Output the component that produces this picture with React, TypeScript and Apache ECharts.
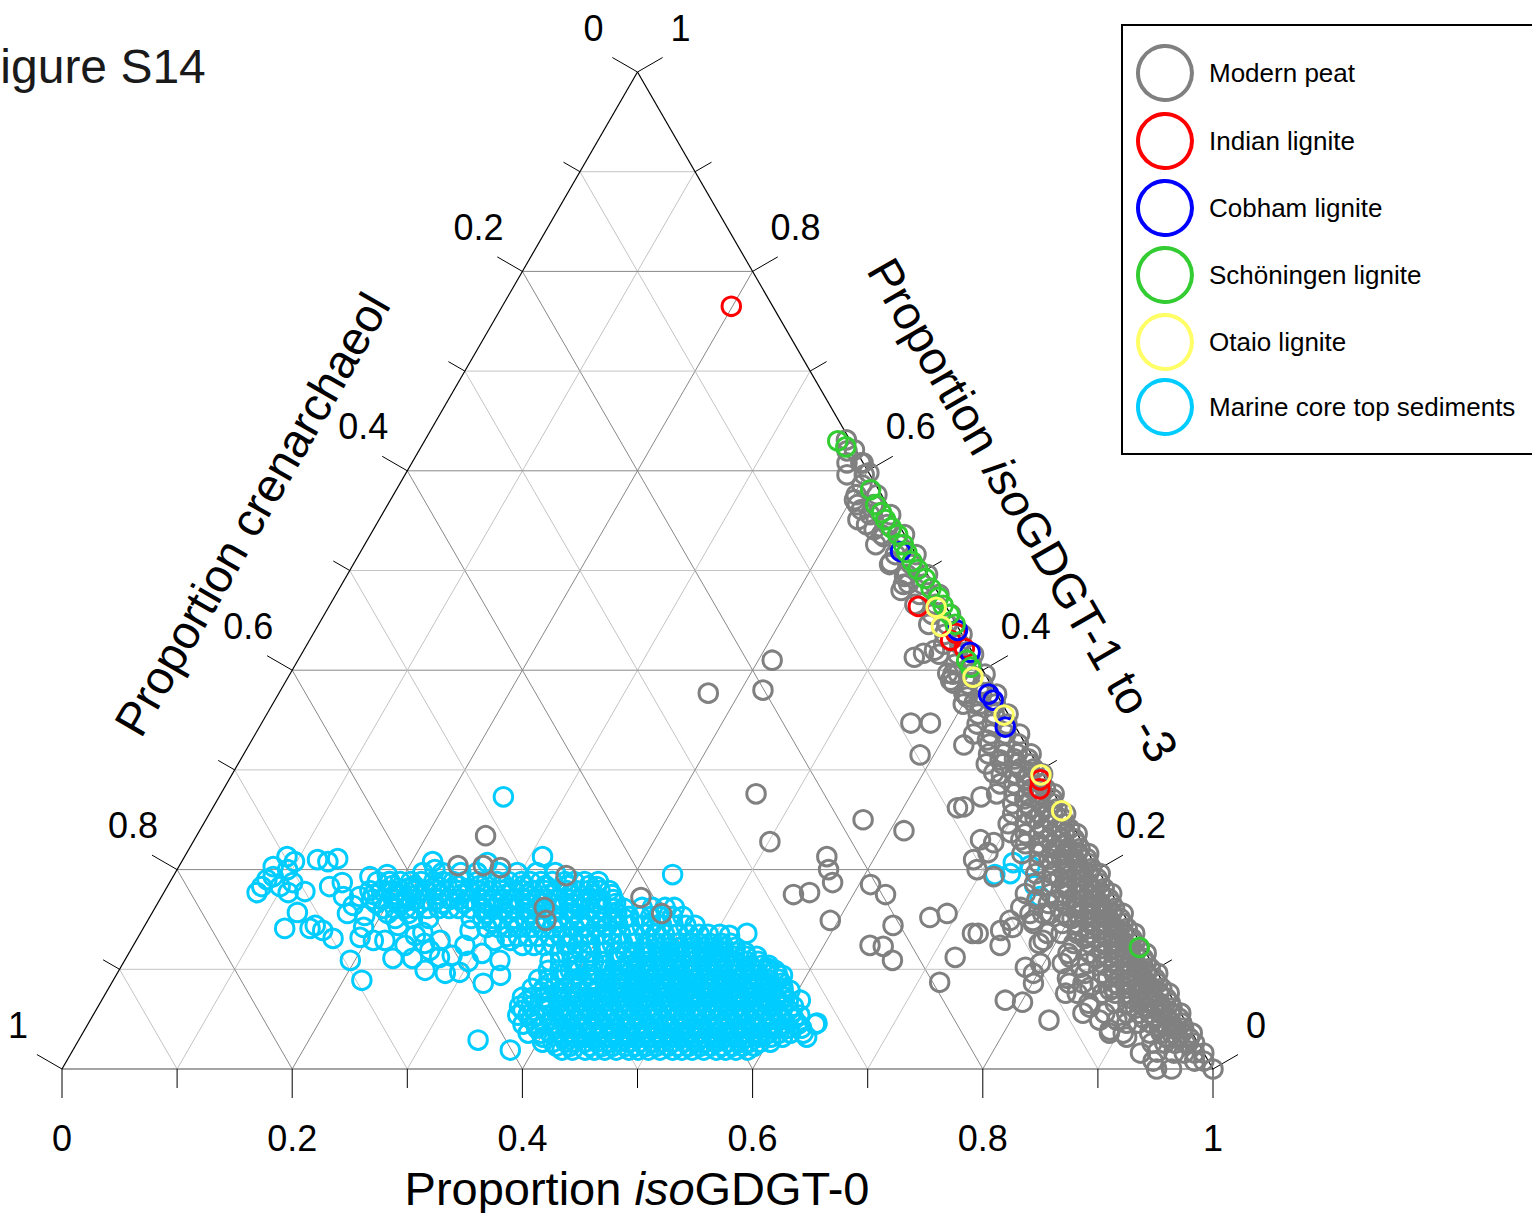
import React, { useEffect, useRef } from "react";
import * as echarts from "echarts";

const FONT = "'Liberation Sans', Arial, Helvetica, sans-serif";
const H = Math.sqrt(3) / 2;

// ---------- axes ----------
const tickValues = [0, 0.1, 0.2, 0.3, 0.4, 0.5, 0.6, 0.7, 0.8, 0.9, 1];
const gridValues = [0.1, 0.2, 0.3, 0.4, 0.5, 0.6, 0.7, 0.8, 0.9];
const tickLabelValues = [0, 0.2, 0.4, 0.6, 0.8, 1];
const tickLabelTexts = ["0", "0.2", "0.4", "0.6", "0.8", "1"];

const seriesNames = [
  "Modern peat",
  "Indian lignite",
  "Cobham lignite",
  "Schöningen lignite",
  "Otaio lignite",
  "Marine core top sediments",
];
const seriesColors = ["#808080", "#ff0000", "#0000ff", "#33cc33", "#ffff66", "#00ccff"];

// ---------- data: [isoGDGT-0, isoGDGT-1 to -3]; crenarchaeol = 1 - both ----------
const indianLignite = [
  [0.199, 0.765], [0.512, 0.464], [0.558, 0.437], [0.573, 0.422], [0.557, 0.43],
  [0.705, 0.29], [0.709, 0.281],
];
const cobhamLignite = [
  [0.469, 0.519], [0.558, 0.44], [0.58, 0.418], [0.617, 0.376], [0.624, 0.37], [0.648, 0.343],
];
const schoningenLignite = [
  [0.359, 0.63], [0.369, 0.624], [0.412, 0.581], [0.424, 0.566], [0.433, 0.558], [0.44, 0.551],
  [0.449, 0.543], [0.458, 0.536], [0.468, 0.526], [0.475, 0.518], [0.484, 0.509], [0.493, 0.501],
  [0.504, 0.492], [0.514, 0.482], [0.525, 0.473], [0.533, 0.465], [0.543, 0.456], [0.553, 0.446],
  [0.581, 0.41], [0.588, 0.403], [0.875, 0.122],
];
const otaioLignite = [
  [0.528, 0.463], [0.542, 0.444], [0.595, 0.393], [0.641, 0.355], [0.703, 0.295], [0.739, 0.259],
];

// Modern peat, scattered points [isoGDGT-0, isoGDGT-1 to -3]
const peatScatter = [
  [0.534, 0.413], [0.54, 0.417], [0.548, 0.42], [0.577, 0.39], [0.58, 0.397], [0.6, 0.373],
  [0.609, 0.367], [0.564, 0.347], [0.581, 0.347], [0.588, 0.315], [0.621, 0.325], [0.639, 0.33],
  [0.647, 0.262], [0.652, 0.263], [0.662, 0.273], [0.661, 0.297], [0.66, 0.31], [0.687, 0.21],
  [0.696, 0.217], [0.683, 0.23], [0.696, 0.227], [0.706, 0.237], [0.718, 0.23], [0.739, 0.223],
  [0.713, 0.193], [0.695, 0.2], [0.782, 0.183], [0.78, 0.17], [0.781, 0.156], [0.798, 0.152],
  [0.813, 0.139], [0.752, 0.162], [0.749, 0.149], [0.763, 0.156], [0.762, 0.17], [0.761, 0.183],
  [0.746, 0.139], [0.755, 0.142], [0.769, 0.149], [0.788, 0.129], [0.728, 0.136], [0.72, 0.112],
  [0.753, 0.124], [0.785, 0.069], [0.801, 0.067], [0.833, 0.049], [0.786, 0.102], [0.796, 0.096],
  [0.801, 0.086], [0.828, 0.091], [0.834, 0.102], [0.82, 0.112], [0.852, 0.082], [0.871, 0.079],
  [0.862, 0.062], [0.844, 0.076], [0.877, 0.049], [0.892, 0.049], [0.891, 0.039], [0.909, 0.032],
  [0.943, 0.017],
  [0.412, 0.41], [0.373, 0.377], [0.419, 0.38], [0.465, 0.276], [0.501, 0.228], [0.571, 0.25],
  [0.612, 0.239], [0.558, 0.213], [0.566, 0.2], [0.576, 0.187], [0.548, 0.175], [0.561, 0.177],
  [0.593, 0.149], [0.61, 0.185], [0.628, 0.175], [0.65, 0.144], [0.64, 0.124], [0.652, 0.123],
  [0.667, 0.109], [0.678, 0.152], [0.691, 0.156], [0.719, 0.087], [0.723, 0.136],
  [0.251, 0.234], [0.242, 0.204], [0.264, 0.204], [0.28, 0.202], [0.341, 0.194], [0.338, 0.162],
  [0.346, 0.149], [0.417, 0.172], [0.443, 0.156],
  [0.403, 0.571], [0.414, 0.561], [0.416, 0.551], [0.435, 0.541], [0.447, 0.534], [0.466, 0.508],
  [0.485, 0.494], [0.489, 0.48], [0.492, 0.487], [0.571, 0.397], [0.581, 0.387], [0.595, 0.377],
  [0.366, 0.631], [0.378, 0.621], [0.392, 0.608], [0.402, 0.598],
];

// Modern peat, dense band along the right edge: [isoGDGT-1 to -3, crenarchaeol values...]
const peatEdgeRows = [
  [0.0, 0.0, 0.036, 0.049],
  [0.008, 0.004, 0.012, 0.048],
  [0.016, 0.0, 0.008, 0.017, 0.026, 0.055],
  [0.026, 0.003, 0.011, 0.02, 0.029, 0.04],
  [0.036, 0.0, 0.009, 0.018, 0.027, 0.037, 0.06, 0.072],
  [0.046, 0.004, 0.013, 0.022, 0.031, 0.042, 0.052],
  [0.056, 0.0, 0.009, 0.018, 0.027, 0.036, 0.047, 0.066, 0.085],
  [0.066, 0.004, 0.013, 0.022, 0.031, 0.041, 0.052, 0.075],
  [0.076, 0.0, 0.009, 0.018, 0.027, 0.037, 0.047, 0.058, 0.09],
  [0.086, 0.005, 0.014, 0.023, 0.032, 0.042, 0.055, 0.07, 0.082],
  [0.096, 0.0, 0.01, 0.019, 0.028, 0.038, 0.048, 0.063],
  [0.106, 0.005, 0.014, 0.023, 0.033, 0.043, 0.056, 0.078, 0.097],
  [0.116, 0.0, 0.01, 0.019, 0.028, 0.038, 0.049, 0.068],
  [0.126, 0.005, 0.014, 0.024, 0.033, 0.044, 0.058, 0.088],
  [0.136, 0.0, 0.01, 0.019, 0.029, 0.039, 0.05, 0.064, 0.076],
  [0.146, 0.005, 0.015, 0.024, 0.034, 0.045, 0.058, 0.083],
  [0.156, 0.0, 0.01, 0.02, 0.03, 0.04, 0.052, 0.07],
  [0.166, 0.005, 0.015, 0.025, 0.035, 0.046, 0.06],
  [0.176, 0.0, 0.01, 0.02, 0.03, 0.041, 0.053, 0.075],
  [0.186, 0.005, 0.015, 0.025, 0.036, 0.047, 0.062],
  [0.196, 0.0, 0.01, 0.02, 0.031, 0.042, 0.056],
  [0.206, 0.005, 0.015, 0.026, 0.037, 0.048],
  [0.216, 0.0, 0.01, 0.021, 0.032, 0.043, 0.058],
  [0.226, 0.005, 0.016, 0.027, 0.038, 0.05],
  [0.236, 0.0, 0.011, 0.022, 0.033, 0.045],
  [0.246, 0.006, 0.017, 0.028, 0.04, 0.055],
  [0.256, 0.0, 0.011, 0.022, 0.034, 0.046],
  [0.266, 0.006, 0.017, 0.029, 0.041],
  [0.276, 0.0, 0.011, 0.023, 0.035, 0.05],
  [0.286, 0.006, 0.018, 0.03, 0.042],
  [0.296, 0.0, 0.012, 0.024, 0.036],
  [0.306, 0.006, 0.018, 0.03, 0.044],
  [0.316, 0.0, 0.012, 0.024, 0.037],
  [0.326, 0.006, 0.018, 0.031],
  [0.336, 0.0, 0.012, 0.025, 0.04],
  [0.346, 0.006, 0.019, 0.032],
  [0.356, 0.0, 0.012, 0.026],
  [0.366, 0.006, 0.019, 0.034],
  [0.376, 0.0, 0.013, 0.027],
  [0.386, 0.007, 0.02],
  [0.396, 0.0, 0.013, 0.028],
  [0.406, 0.007, 0.021],
  [0.416, 0.0, 0.014, 0.03],
  [0.426, 0.007, 0.021],
  [0.436, 0.0, 0.015],
  [0.446, 0.008, 0.024],
  [0.456, 0.0, 0.016],
  [0.466, 0.008, 0.026],
  [0.476, 0.0, 0.017],
  [0.486, 0.009, 0.026],
  [0.496, 0.0, 0.018],
  [0.506, 0.009, 0.028],
  [0.516, 0.0, 0.018],
  [0.526, 0.01, 0.03],
  [0.536, 0.0, 0.02],
  [0.546, 0.01, 0.028],
  [0.556, 0.002, 0.02],
  [0.566, 0.012, 0.026],
  [0.576, 0.004, 0.022],
  [0.586, 0.012],
  [0.596, 0.005, 0.02],
  [0.608, 0.002, 0.014],
  [0.62, 0.008],
];

// Modern peat, the most crowded part of the band: [isoGDGT-1 to -3, crenarchaeol values...]
const peatCoreRows = [
  [0.031, 0.005, 0.015, 0.024],
  [0.041, 0.005, 0.015, 0.026],
  [0.051, 0.004, 0.014, 0.024, 0.035],
  [0.061, 0.005, 0.015, 0.026, 0.037],
  [0.071, 0.005, 0.016, 0.027, 0.037],
  [0.081, 0.004, 0.014, 0.024, 0.035, 0.046],
  [0.091, 0.005, 0.015, 0.025, 0.036, 0.046],
  [0.101, 0.004, 0.015, 0.025, 0.036],
  [0.111, 0.005, 0.015, 0.025, 0.035, 0.046],
  [0.121, 0.004, 0.015, 0.025, 0.036],
  [0.131, 0.005, 0.015, 0.025, 0.036, 0.046],
  [0.141, 0.004, 0.015, 0.026, 0.037],
  [0.151, 0.005, 0.015, 0.026, 0.036, 0.047],
  [0.161, 0.005, 0.015, 0.026, 0.037],
  [0.171, 0.005, 0.016, 0.026, 0.037],
  [0.181, 0.004, 0.015, 0.026, 0.037],
  [0.191, 0.005, 0.016, 0.027, 0.038],
  [0.201, 0.005, 0.016, 0.027],
  [0.211, 0.004, 0.015, 0.026, 0.037],
  [0.221, 0.005, 0.016, 0.027],
  [0.231, 0.005, 0.016, 0.028],
  [0.241, 0.004, 0.015, 0.027],
  [0.251, 0.005, 0.017, 0.029],
  [0.261, 0.005, 0.016, 0.028],
  [0.271, 0.004, 0.016, 0.028],
  [0.281, 0.005, 0.017],
  [0.291, 0.005, 0.017],
  [0.301, 0.005, 0.017],
  [0.311, 0.005, 0.017],
];

// Marine core tops, scattered points [isoGDGT-0, isoGDGT-1 to -3]
const marineScatter = [
  [0.247, 0.273], [0.089, 0.213], [0.098, 0.208], [0.096, 0.2], [0.117, 0.21], [0.127, 0.208],
  [0.134, 0.211], [0.081, 0.177], [0.083, 0.19], [0.087, 0.193], [0.098, 0.183], [0.108, 0.177],
  [0.107, 0.187], [0.122, 0.178], [0.082, 0.203], [0.082, 0.183], [0.126, 0.157], [0.123, 0.141],
  [0.145, 0.141], [0.148, 0.144], [0.157, 0.139], [0.17, 0.131], [0.141, 0.183], [0.15, 0.187],
  [0.158, 0.173], [0.172, 0.173], [0.17, 0.156], [0.171, 0.164], [0.186, 0.154], [0.196, 0.109],
  [0.216, 0.089], [0.171, 0.193], [0.185, 0.195], [0.191, 0.188], [0.191, 0.142], [0.206, 0.129],
  [0.193, 0.132], [0.211, 0.182], [0.218, 0.208], [0.224, 0.2], [0.347, 0.029], [0.38, 0.019],
  [0.311, 0.213], [0.373, 0.183], [0.406, 0.152], [0.433, 0.195], [0.527, 0.136], [0.266, 0.207],
  [0.232, 0.111], [0.236, 0.124], [0.24, 0.134], [0.266, 0.099], [0.26, 0.119], [0.264, 0.129],
  [0.285, 0.096], [0.282, 0.114], [0.297, 0.097], [0.288, 0.124], [0.285, 0.139], [0.307, 0.116],
  [0.323, 0.086], [0.22, 0.144], [0.216, 0.129], [0.249, 0.111], [0.326, 0.109], [0.334, 0.094],
  [0.325, 0.129], [0.245, 0.137], [0.272, 0.112], [0.252, 0.126], [0.299, 0.108], [0.311, 0.129],
  [0.723, 0.207], [0.726, 0.196], [0.739, 0.204], [0.753, 0.184], [0.763, 0.173], [0.713, 0.195],
  [0.579, 0.094], [0.607, 0.069], [0.633, 0.046], [0.631, 0.032], [0.593, 0.079], [0.563, 0.101],
  [0.513, 0.134],
];

// Marine core tops, dense cloud: [isoGDGT-1 to -3, isoGDGT-0 values...]
const marineRows = [
  [0.019, 0.425, 0.434, 0.445, 0.453, 0.462, 0.472, 0.483, 0.491, 0.5, 0.51, 0.521, 0.529, 0.538, 0.548, 0.559, 0.567, 0.576, 0.586],
  [0.027, 0.404, 0.413, 0.424, 0.432, 0.441, 0.451, 0.462, 0.47, 0.479, 0.489, 0.5, 0.508, 0.517, 0.527, 0.538, 0.546, 0.555, 0.565, 0.576, 0.584, 0.593, 0.602],
  [0.036, 0.387, 0.398, 0.406, 0.415, 0.425, 0.436, 0.444, 0.453, 0.463, 0.474, 0.482, 0.491, 0.501, 0.512, 0.52, 0.529, 0.539, 0.55, 0.558, 0.567, 0.577, 0.588, 0.596, 0.605, 0.615, 0.626],
  [0.045, 0.378, 0.389, 0.397, 0.406, 0.416, 0.427, 0.435, 0.444, 0.454, 0.465, 0.473, 0.482, 0.492, 0.503, 0.511, 0.52, 0.53, 0.541, 0.549, 0.558, 0.568, 0.579, 0.587, 0.596, 0.606, 0.617, 0.632],
  [0.054, 0.369, 0.378, 0.388, 0.399, 0.407, 0.416, 0.426, 0.437, 0.445, 0.454, 0.464, 0.475, 0.483, 0.492, 0.502, 0.513, 0.521, 0.53, 0.54, 0.551, 0.559, 0.568, 0.578, 0.589, 0.597, 0.606, 0.614],
  [0.063, 0.366, 0.376, 0.385, 0.393, 0.404, 0.414, 0.423, 0.431, 0.442, 0.452, 0.461, 0.469, 0.48, 0.49, 0.499, 0.507, 0.518, 0.528, 0.537, 0.545, 0.556, 0.566, 0.575, 0.583, 0.594, 0.604],
  [0.072, 0.364, 0.373, 0.383, 0.394, 0.402, 0.411, 0.421, 0.432, 0.44, 0.449, 0.459, 0.47, 0.478, 0.487, 0.497, 0.508, 0.516, 0.525, 0.535, 0.546, 0.554, 0.563, 0.573, 0.584, 0.592],
  [0.081, 0.368, 0.378, 0.387, 0.395, 0.406, 0.416, 0.425, 0.433, 0.444, 0.454, 0.463, 0.471, 0.482, 0.492, 0.501, 0.509, 0.52, 0.53, 0.539, 0.547, 0.558, 0.568, 0.577, 0.586],
  [0.09, 0.369, 0.378, 0.388, 0.399, 0.407, 0.416, 0.426, 0.437, 0.445, 0.454, 0.464, 0.475, 0.483, 0.492, 0.502, 0.513, 0.521, 0.53, 0.54, 0.551, 0.559, 0.568, 0.578],
  [0.099, 0.373, 0.383, 0.392, 0.4, 0.411, 0.421, 0.43, 0.438, 0.449, 0.459, 0.468, 0.476, 0.487, 0.497, 0.506, 0.514, 0.525, 0.535, 0.544, 0.552, 0.563, 0.57],
  [0.108, 0.37, 0.379, 0.389, 0.4, 0.408, 0.417, 0.427, 0.438, 0.446, 0.455, 0.465, 0.476, 0.484, 0.493, 0.503, 0.514, 0.522, 0.531, 0.541, 0.551],
  [0.117, 0.374, 0.384, 0.393, 0.401, 0.412, 0.422, 0.431, 0.439, 0.45, 0.46, 0.469, 0.477, 0.488, 0.498, 0.507, 0.515, 0.526, 0.535],
  [0.126, 0.377, 0.386, 0.396, 0.407, 0.415, 0.424, 0.434, 0.445, 0.453, 0.462, 0.472, 0.483, 0.491, 0.5, 0.51, 0.518],
  [0.135, 0.391, 0.401, 0.41, 0.418, 0.429, 0.439, 0.448, 0.456, 0.467, 0.477, 0.486, 0.494, 0.504],
  [0.144, 0.402, 0.411, 0.421, 0.432, 0.44, 0.449, 0.459, 0.47, 0.478],
  [0.153, 0.416, 0.426, 0.435, 0.443, 0.454, 0.463],
  [0.162, 0.423, 0.432, 0.443, 0.451],
  [0.197, 0.215, 0.232, 0.248, 0.262, 0.281, 0.297, 0.314, 0.33],
  [0.188, 0.18, 0.19, 0.2, 0.209, 0.218, 0.229, 0.237, 0.246, 0.256, 0.267, 0.275, 0.284, 0.294, 0.305, 0.313, 0.322, 0.332, 0.343, 0.351, 0.36, 0.372],
  [0.179, 0.178, 0.188, 0.197, 0.205, 0.216, 0.226, 0.235, 0.243, 0.254, 0.264, 0.273, 0.281, 0.292, 0.302, 0.311, 0.319, 0.33, 0.34, 0.349, 0.357, 0.368, 0.378, 0.386],
  [0.17, 0.184, 0.193, 0.203, 0.214, 0.222, 0.231, 0.241, 0.252, 0.26, 0.269, 0.279, 0.29, 0.298, 0.307, 0.317, 0.328, 0.336, 0.345, 0.355, 0.366, 0.374, 0.383, 0.394],
  [0.161, 0.199, 0.209, 0.218, 0.226, 0.237, 0.247, 0.256, 0.264, 0.275, 0.285, 0.294, 0.302, 0.313, 0.323, 0.332, 0.34, 0.351, 0.361, 0.37, 0.378, 0.389, 0.399, 0.408],
  [0.151, 0.214, 0.229, 0.243, 0.28, 0.29, 0.299, 0.307, 0.318, 0.328, 0.337, 0.345, 0.356, 0.366, 0.375, 0.383, 0.394, 0.404, 0.413],
  [0.142, 0.298, 0.308, 0.317, 0.325, 0.336, 0.346, 0.355, 0.363, 0.374, 0.384, 0.393],
  [0.133, 0.32, 0.33, 0.339, 0.347, 0.358, 0.368, 0.377, 0.386],
  [0.124, 0.338, 0.348, 0.357, 0.365, 0.376],
];

// Marine core tops, the most crowded part of the cloud: [isoGDGT-1 to -3, isoGDGT-0 values...]
const marineCoreRows = [
  [0.023, 0.418, 0.43, 0.447, 0.458, 0.467, 0.478, 0.487, 0.496, 0.505, 0.515, 0.524, 0.533, 0.543, 0.552, 0.562, 0.571, 0.58, 0.59],
  [0.032, 0.402, 0.42, 0.43, 0.44, 0.449, 0.458, 0.468, 0.477, 0.487, 0.496, 0.505, 0.514, 0.524, 0.533, 0.543, 0.552, 0.561, 0.571, 0.581, 0.59, 0.6, 0.61],
  [0.041, 0.392, 0.41, 0.421, 0.431, 0.44, 0.449, 0.459, 0.469, 0.478, 0.487, 0.497, 0.506, 0.516, 0.525, 0.535, 0.544, 0.553, 0.563, 0.573, 0.582, 0.592, 0.601, 0.611, 0.622],
  [0.05, 0.383, 0.402, 0.412, 0.421, 0.431, 0.441, 0.45, 0.459, 0.469, 0.478, 0.488, 0.497, 0.507, 0.516, 0.526, 0.535, 0.545, 0.554, 0.563, 0.573, 0.583, 0.592, 0.601, 0.611],
  [0.059, 0.371, 0.392, 0.403, 0.412, 0.422, 0.431, 0.441, 0.45, 0.46, 0.469, 0.479, 0.488, 0.498, 0.507, 0.517, 0.526, 0.536, 0.545, 0.555, 0.564, 0.573, 0.583, 0.592, 0.602],
  [0.068, 0.37, 0.389, 0.399, 0.409, 0.418, 0.428, 0.437, 0.447, 0.456, 0.466, 0.475, 0.485, 0.494, 0.503, 0.513, 0.522, 0.532, 0.541, 0.551, 0.56, 0.57, 0.579, 0.589, 0.597],
  [0.077, 0.378, 0.392, 0.411, 0.426, 0.436, 0.445, 0.455, 0.464, 0.474, 0.483, 0.493, 0.502, 0.512, 0.521, 0.531, 0.54, 0.55, 0.559, 0.569, 0.578, 0.588],
  [0.086, 0.381, 0.4, 0.42, 0.43, 0.44, 0.449, 0.459, 0.468, 0.478, 0.487, 0.497, 0.506, 0.516, 0.525, 0.535, 0.544, 0.553, 0.563, 0.573, 0.582],
  [0.095, 0.388, 0.411, 0.431, 0.441, 0.45, 0.46, 0.469, 0.479, 0.488, 0.498, 0.507, 0.517, 0.526, 0.536, 0.545, 0.555, 0.565, 0.574],
  [0.104, 0.395, 0.42, 0.441, 0.451, 0.461, 0.47, 0.48, 0.489, 0.499, 0.508, 0.518, 0.527, 0.537, 0.546, 0.556, 0.562],
  [0.113, 0.44, 0.452, 0.462, 0.471, 0.481, 0.49, 0.5, 0.509, 0.519, 0.528, 0.538, 0.547],
  [0.122, 0.445, 0.457, 0.467, 0.476, 0.486, 0.495, 0.505, 0.514, 0.524],
  [0.184, 0.195, 0.214, 0.233, 0.252, 0.271, 0.29, 0.309, 0.328, 0.347, 0.366],
  [0.175, 0.183, 0.202, 0.221, 0.24, 0.259, 0.278, 0.297, 0.316, 0.335, 0.354, 0.373, 0.39],
  [0.166, 0.19, 0.209, 0.228, 0.247, 0.266, 0.285, 0.304, 0.323, 0.342, 0.361, 0.38, 0.398],
  [0.156, 0.205, 0.223, 0.29, 0.309, 0.328, 0.347, 0.366, 0.385, 0.404],
  [0.147, 0.3, 0.319, 0.338, 0.357, 0.376, 0.395],
];

// ---------- helpers ----------
const toXY = (a: number, b: number) => [a + b / 2, b * H];

function buildPeat() {
  const pts: number[][] = [];
  [...peatEdgeRows, ...peatCoreRows].forEach(([b, ...cs]) =>
    cs.forEach((c) => pts.push([1 - b - c, b]))
  );
  peatScatter.forEach((p) => pts.push(p));
  return pts;
}
function buildMarine() {
  const pts: number[][] = [];
  [...marineRows, ...marineCoreRows].forEach(([b, ...as]) => as.forEach((a) => pts.push([a, b])));
  marineScatter.forEach((p) => pts.push(p));
  return pts;
}

const lineColors = ["#c4c4c4", "#888888", "#000000", "#4a4a4a"];

function buildGridLines() {
  const out: number[][] = [];
  gridValues.forEach((k) => {
    const kind = Math.round(k * 10) % 2 === 0 ? 1 : 0;
    out.push([...toXY(0, k), ...toXY(1 - k, k), kind]);
    out.push([...toXY(k, 0), ...toXY(k, 1 - k), kind]);
    out.push([...toXY(1 - k, 0), ...toXY(0, 1 - k), kind]);
  });
  out.push([...toXY(0, 0), ...toXY(1, 0), 3]);
  out.push([...toXY(0, 0), ...toXY(0, 1), 2]);
  out.push([...toXY(1, 0), ...toXY(0, 1), 2]);
  return out;
}

function buildTicks() {
  const out: number[][] = [];
  const c30 = Math.cos(Math.PI / 6);
  const s30 = 0.5;
  tickValues.forEach((v) => {
    const len = Math.round(v * 10) % 2 === 0 ? 29 : 19;
    out.push([...toXY(v, 0), 0, 1, len]);
    out.push([...toXY(0, 1 - v), -c30, -s30, len]);
    out.push([...toXY(1 - v, v), c30, -s30, len]);
  });
  return out;
}

function buildTickLabels() {
  const data: number[][] = [];
  const texts: string[] = [];
  tickLabelValues.forEach((v, i) => {
    data.push([...toXY(v, 0), 0, 69]);
    texts.push(tickLabelTexts[i]);
    data.push([...toXY(0, 1 - v), -44, -44]);
    texts.push(tickLabelTexts[i]);
    data.push([...toXY(1 - v, v), 43, -44]);
    texts.push(tickLabelTexts[i]);
  });
  return { data, texts };
}

export default function App() {
  const ref = useRef<HTMLDivElement>(null);

  useEffect(() => {
    document.body.style.margin = "0";
    if (!ref.current) return;
    const chart = echarts.init(ref.current, null, { renderer: "svg" });

    const peat = buildPeat();
    const marine = buildMarine();
    const labels = buildTickLabels();

    const scatter = (name: string, color: string, pts: number[][]) => ({
      type: "scatter",
      name,
      data: pts.map(([a, b]) => toXY(a, b)),
      symbol: "circle",
      symbolSize: 18.5,
      silent: true,
      clip: false,
      progressive: 0,
      itemStyle: { color: "rgba(0,0,0,0)", borderColor: color, borderWidth: 3, opacity: 1 },
      z: 3,
    });

    const option: any = {
      animation: false,
      backgroundColor: "#ffffff",
      grid: { left: 62, top: 72, width: 1151, height: 997, containLabel: false },
      xAxis: { type: "value", min: 0, max: 1, show: false },
      yAxis: { type: "value", min: 0, max: H, show: false },
      series: [
        {
          type: "custom",
          coordinateSystem: "cartesian2d",
          silent: true,
          clip: false,
          z: 1,
          data: buildGridLines(),
          renderItem: (params: any, api: any) => {
            const p1 = api.coord([api.value(0), api.value(1)]);
            const p2 = api.coord([api.value(2), api.value(3)]);
            const kind = api.value(4);
            return {
              type: "line",
              shape: { x1: p1[0], y1: p1[1], x2: p2[0], y2: p2[1] },
              style: { stroke: lineColors[kind], lineWidth: kind >= 2 ? 1.2 : 1 },
            };
          },
        },
        {
          type: "custom",
          coordinateSystem: "cartesian2d",
          silent: true,
          clip: false,
          z: 1,
          data: buildTicks(),
          renderItem: (params: any, api: any) => {
            const p = api.coord([api.value(0), api.value(1)]);
            const dx = api.value(2);
            const dy = api.value(3);
            const len = api.value(4);
            return {
              type: "line",
              shape: { x1: p[0], y1: p[1], x2: p[0] + dx * len, y2: p[1] + dy * len },
              style: { stroke: "#000", lineWidth: 1 },
            };
          },
        },
        {
          type: "custom",
          coordinateSystem: "cartesian2d",
          silent: true,
          clip: false,
          z: 1,
          data: labels.data,
          renderItem: (params: any, api: any) => {
            const p = api.coord([api.value(0), api.value(1)]);
            return {
              type: "text",
              x: p[0] + api.value(2),
              y: p[1] + api.value(3),
              style: {
                text: labels.texts[params.dataIndex],
                fontSize: 36,
                fontFamily: FONT,
                fill: "#000",
                align: "center",
                verticalAlign: "middle",
              },
            };
          },
        },
        scatter(seriesNames[5], seriesColors[5], marine),
        scatter(seriesNames[0], seriesColors[0], peat),
        scatter(seriesNames[1], seriesColors[1], indianLignite),
        scatter(seriesNames[2], seriesColors[2], cobhamLignite),
        scatter(seriesNames[3], seriesColors[3], schoningenLignite),
        scatter(seriesNames[4], seriesColors[4], otaioLignite),
      ],
      graphic: [
        {
          type: "text",
          x: -29,
          y: 66,
          style: { text: "Figure S14", fontSize: 48, fontFamily: FONT, fill: "#1a1a1a", verticalAlign: "middle" },
        },
        {
          type: "text",
          x: 637,
          y: 1188,
          style: {
            text: "Proportion {i|iso}GDGT-0",
            fontSize: 47,
            fontFamily: FONT,
            fill: "#000",
            align: "center",
            verticalAlign: "middle",
            rich: { i: { fontSize: 47, fontFamily: FONT, fontStyle: "italic", fill: "#000" } },
          },
        },
        {
          type: "text",
          x: 252,
          y: 514,
          rotation: Math.PI / 3,
          style: {
            text: "Proportion crenarchaeol",
            fontSize: 47,
            fontFamily: FONT,
            fill: "#000",
            align: "center",
            verticalAlign: "middle",
          },
        },
        {
          type: "text",
          x: 1023,
          y: 510,
          rotation: -Math.PI / 3,
          style: {
            text: "Proportion {i|iso}GDGT-1 to -3",
            fontSize: 47,
            fontFamily: FONT,
            fill: "#000",
            align: "center",
            verticalAlign: "middle",
            rich: { i: { fontSize: 47, fontFamily: FONT, fontStyle: "italic", fill: "#000" } },
          },
        },
        {
          type: "rect",
          shape: { x: 1122, y: 25, width: 430, height: 429 },
          style: { fill: "#fff", stroke: "#000", lineWidth: 2 },
          z: 10,
        },
        ...seriesNames.flatMap((name, i) => {
          const cy = [73, 141, 208, 275, 342, 407][i];
          return [
            {
              type: "circle",
              shape: { cx: 1165, cy, r: 27 },
              style: { fill: "none", stroke: seriesColors[i], lineWidth: 4 },
              z: 11,
            },
            {
              type: "text",
              x: 1209,
              y: cy,
              style: { text: name, fontSize: 26, fontFamily: FONT, fill: "#000", verticalAlign: "middle" },
              z: 11,
            },
          ];
        }),
      ],
    };

    chart.setOption(option);
    return () => chart.dispose();
  }, []);

  return (
    <div
      ref={ref}
      style={{ position: "absolute", left: 0, top: 0, width: 1532, height: 1213, background: "#fff" }}
    />
  );
}
